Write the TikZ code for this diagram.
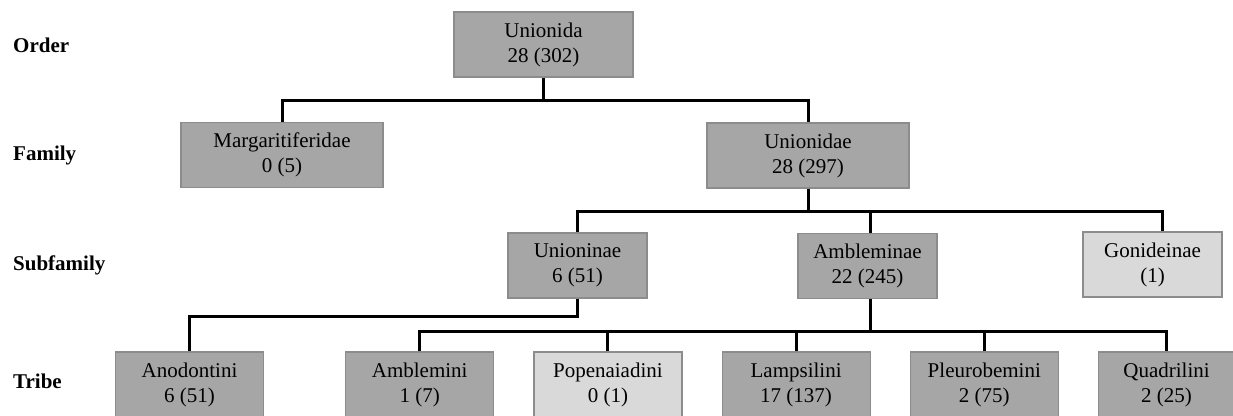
\documentclass[tikz,border=0pt]{standalone}
\usepackage{fontspec}
\setmainfont{Liberation Serif}
\usepackage{tikz}
\usetikzlibrary{
  positioning,
}
\definecolor{taxongray}{RGB}{166, 166, 166}
\definecolor{taxonlight}{RGB}{217, 217, 217}
\definecolor{taxonedge}{RGB}{140, 140, 140}
\tikzstyle{taxon} = [
  rectangle,
  draw=taxonedge,
  line width=1.2pt,
  fill=taxongray,
  minimum height=65,
  inner sep=0pt,
  align=center,
  font=\fontsize{21}{25}\selectfont,
]
\tikzstyle{rank} = [
  anchor=west,
  inner sep=0pt,
  font=\fontsize{21}{25}\selectfont\bfseries,
]
\tikzstyle{link} = [
  line width=3pt,
  black,
]

\begin{document}
\begin{tikzpicture}[x=1pt,y=-1pt,node distance=39 and 39]
			\useasboundingbox (0,0) rectangle (1233,415);
			\clip (0,0) rectangle (1233,415);

			% rank labels
			\node[rank] (rorder) at (13,45) {Order};
			\node[rank] (rfamily) at (13,155) {Family};
			\node[rank] (rsubfamily) at (13,265) {Subfamily};
			\node[rank] (rtribe) at (13,381) {Tribe};

			% order and families
			\node[taxon,minimum width=179] (order) at (543.5,44.5) {Unionida\\28 (302)};
			\node[taxon,minimum width=202] (margar) at (282,155) {Margaritiferidae\\0 (5)};
			\node[taxon,minimum width=202] (unionidae) at (808,155.5) {Unionidae\\28 (297)};

			% subfamilies
			\node[taxon,minimum width=139] (unioninae) at (577.5,265.5) {Unioninae\\6 (51)};
			\node[taxon,minimum width=139] (ambleminae) at (867.5,266) {Ambleminae\\22 (245)};
			\node[taxon,minimum width=139,fill=taxonlight] (gonideinae) at (1152.5,264.5) {Gonideinae\\(1)};

			% tribes
			\node[taxon,minimum width=148] (anodontini) at (189.5,384.5) {Anodontini\\6 (51)};
			\node[taxon,minimum width=148,right=81 of anodontini] (amblemini) {Amblemini\\1 (7)};
			\node[taxon,minimum width=148,fill=taxonlight,right=of amblemini] (popenaiadini) {Popenaiadini\\0 (1)};
			\node[taxon,minimum width=148,right=of popenaiadini] (lampsilini) {Lampsilini\\17 (137)};
			\node[taxon,minimum width=148,right=of lampsilini] (pleurobemini) {Pleurobemini\\2 (75)};
			\node[taxon,minimum width=136,right=of pleurobemini] (quadrilini) {Quadrilini\\2 (25)};

			% junctions
			\coordinate (j0) at (543.5,100);
			\coordinate (j1) at (808,211);
			\coordinate (j2) at (577.5,316);
			\coordinate (j3) at (870,331);

			\draw[link] (order.south) -- (j0);
			\draw[link] (margar.north) |- (j0) -| (unionidae.north);

			\draw[link] (unionidae.south) -- (j1);
			\draw[link] (unioninae.north) |- (j1) -| ([xshift=9.5]gonideinae.north);
			\draw[link] ([xshift=2.5]ambleminae.north) -- ([xshift=2.5]ambleminae.north |- j1);

			\draw[link] (unioninae.south) -- (j2) -| (anodontini.north);
			\draw[link] ([xshift=2.5]ambleminae.south) -- (j3);
			\draw[link] (amblemini.north) |- (j3) -| (quadrilini.north);
			\foreach \t in {popenaiadini,lampsilini,pleurobemini}
				\draw[link] (\t.north) -- (\t.north |- j3);
		\end{tikzpicture}
\end{document}
